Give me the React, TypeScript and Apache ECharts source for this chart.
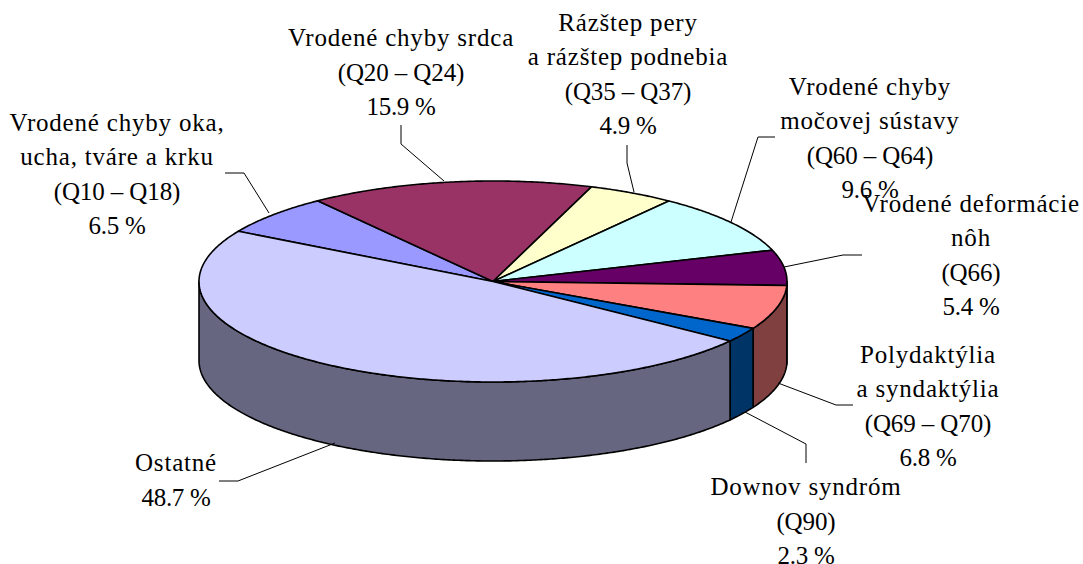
import React, { useEffect, useRef } from "react";
import * as echarts from "echarts";

const categories = [
  "Vrodené chyby oka,\nucha, tváre a krku",
  "Vrodené chyby srdca",
  "Rázštep pery\na rázštep podnebia",
  "Vrodené chyby\nmočovej sústavy",
  "Vrodené deformácie\nnôh",
  "Polydaktýlia\na syndaktýlia",
  "Downov syndróm",
  "Ostatné",
];
const codes = ["(Q10 – Q18)", "(Q20 – Q24)", "(Q35 – Q37)", "(Q60 – Q64)", "(Q66)", "(Q69 – Q70)", "(Q90)", ""];
const shares = [6.5, 15.9, 4.9, 9.6, 5.4, 6.8, 2.3, 48.7];
const topColors = ["#9999FF", "#993366", "#FFFFCC", "#CCFFFF", "#660066", "#FF8080", "#0066CC", "#CCCCFF"];
const sideColors = ["#4C4C80", "#4C1933", "#808066", "#668080", "#330033", "#804040", "#003366", "#666680"];

const labelCenters = [
  [117, 174], [401, 72], [628, 74], [870, 138], [971, 255], [928, 406], [806, 521], [176, 480],
];
const leaders = [
  [[225, 173], [244, 173], [269, 213]],
  [[401, 125], [401, 144], [444, 181]],
  [[627, 145], [627, 163], [634, 192]],
  [[775, 137], [758, 137], [731, 222]],
  [[862, 255], [843, 255], [784, 267]],
  [[853, 405], [836, 405], [778, 383]],
  [[806, 463], [806, 444], [745, 412]],
  [[219, 481], [238, 481], [335, 443]],
];

const CX = 493;
const CY = 281.5;
const RX = 294;
const RY = 100.5;
const DEPTH = 79;
const START = 300;
const total = shares.reduce((a, b) => a + b, 0);

const pt = (deg: number, dy = 0): number[] => {
  const t = (deg * Math.PI) / 180;
  return [CX + RX * Math.sin(t), CY - RY * Math.cos(t) + dy];
};

const arc = (from: number, to: number, dy = 0): number[][] => {
  const out: number[][] = [];
  const n = Math.max(2, Math.ceil(Math.abs(to - from) * 2));
  for (let i = 0; i <= n; i++) out.push(pt(from + ((to - from) * i) / n, dy));
  return out;
};

// The 3-D view foreshortens the right half of the disc slightly.
const project = (deg: number) =>
  deg > 360 && deg < 540 ? deg - 1.5 * Math.sin((2 * (deg - 360) * Math.PI) / 180) : deg;

const stroke = { stroke: "#000", lineWidth: 1.6, lineJoin: "round" as const };

function renderSlice(params: any, api: any) {
  const i = params.dataIndex;
  let before = 0;
  for (let k = 0; k < i; k++) before += shares[k];
  const raw = START + (before / total) * 360;
  const a = project(raw);
  const b = project(raw + (api.value(0) / total) * 360);
  const children: any[] = [];
  for (const off of [0, 360]) {
    const lo = Math.max(a, 90 + off);
    const hi = Math.min(b, 270 + off);
    if (hi > lo) {
      children.push({
        type: "polygon",
        z2: 1,
        shape: { points: [...arc(lo, hi), ...arc(hi, lo, DEPTH)] },
        style: { fill: sideColors[i], ...stroke },
      });
    }
  }
  children.push({
    type: "polygon",
    z2: 2,
    shape: { points: [[CX, CY], ...arc(a, b)] },
    style: { fill: topColors[i], ...stroke },
  });
  return { type: "group", children };
}

const labelText = (i: number) =>
  [categories[i], codes[i], `${shares[i]} %`].filter(Boolean).join("\n");

export default function App() {
  const ref = useRef<HTMLDivElement>(null);
  useEffect(() => {
    document.body.style.margin = "0";
    document.body.style.background = "#fff";
    const chart = echarts.init(ref.current!, null, { renderer: "svg" });
    chart.setOption({
      animation: false,
      backgroundColor: "#fff",
      series: [
        {
          type: "custom",
          coordinateSystem: "none",
          data: shares.map((v) => [v]),
          renderItem: renderSlice,
          silent: true,
        },
      ],
      graphic: [
        ...leaders.map((points) => ({
          type: "polyline",
          z: 5,
          shape: { points },
          style: { stroke: "#000", lineWidth: 1, fill: "none" },
        })),
        ...labelCenters.map(([x, y], i) => ({
          type: "text",
          z: 6,
          x,
          y,
          style: {
            text: labelText(i),
            font: '25px "Liberation Serif"',
            lineHeight: 34.3,
            fill: "#000",
            align: "center",
            verticalAlign: "middle",
          },
        })),
      ],
    });
    // The original spaces words widely but sets figures tightly.
    ref.current!.querySelectorAll("text").forEach((el) => {
      const s = el.textContent || "";
      const spacing = s.includes("%") ? "-0.3px" : s.includes("(Q") ? "-0.1px" : "0.8px";
      (el as unknown as HTMLElement).style.letterSpacing = spacing;
    });
    return () => chart.dispose();
  }, []);
  return <div ref={ref} style={{ width: 1083, height: 564 }} />;
}
